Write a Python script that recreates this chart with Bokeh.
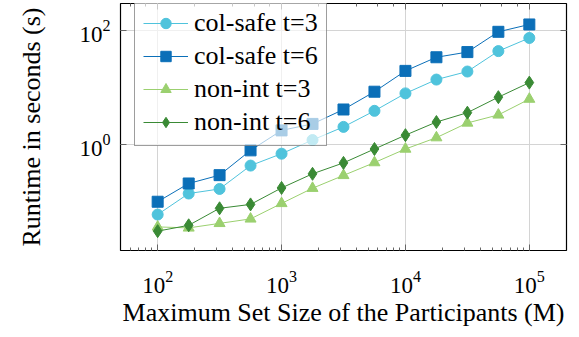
from bokeh.plotting import figure
from bokeh.models import (Range1d, LogAxis, FixedTicker, LogTicker,
                          Legend, LegendItem)
from bokeh.embed import file_html
from bokeh.resources import INLINE

# data
set_size = [100, 178, 316, 562, 1000, 1778, 3162, 5623, 10000, 17783, 31623, 56234, 100000]
colsafe_t3 = [0.059, 0.138, 0.166, 0.427, 0.69, 1.2, 2.04, 3.9, 7.9, 13.8, 19.1, 43.6, 74.1]
colsafe_t6 = [0.099, 0.207, 0.29, 0.79, 1.77, 2.3, 4.12, 8.45, 19.6, 34.0, 41.9, 95.1, 128.0]
nonint_t3 = [0.0358, 0.0344, 0.0413, 0.0495, 0.0925, 0.171, 0.287, 0.482, 0.834, 1.32, 2.39, 3.31, 6.27]
nonint_t6 = [0.0302, 0.0382, 0.076, 0.0889, 0.173, 0.306, 0.476, 0.834, 1.46, 2.48, 3.62, 6.78, 12.2]
labels = ["col-safe t=3", "col-safe t=6", "non-int t=3", "non-int t=6"]
y_ticks = [0.01, 1, 100]

FONT = "'Liberation Serif', 'Times New Roman', serif"

p = figure(width=571, height=329, x_axis_type="log", y_axis_type="log",
           x_range=Range1d(10 ** 1.7, 10 ** 5.3), y_range=Range1d(10 ** -1.86, 10 ** 2.475),
           output_backend="svg", toolbar_location=None,
           min_border_left=120, min_border_right=5, min_border_top=3, min_border_bottom=72)
p.outline_line_color = "black"
p.outline_line_width = 1.2
p.background_fill_color = "white"
p.border_fill_color = "white"

yt = FixedTicker(ticks=y_ticks, minor_ticks=[])
p.yaxis.ticker = yt
p.ygrid.ticker = yt
p.xgrid.grid_line_color = "#d4d4d4"
p.ygrid.grid_line_color = "#d4d4d4"

for ax in (p.xaxis[0], p.yaxis[0]):
    ax.major_tick_in = 6
    ax.major_tick_out = 0
    ax.minor_tick_in = 3
    ax.minor_tick_out = 0
    ax.major_tick_line_color = "#666666"
    ax.minor_tick_line_color = "#666666"
    ax.axis_line_color = None
    ax.major_label_text_font = FONT
    ax.major_label_text_font_size = "23px"
    ax.major_label_text_color = "black"
    ax.axis_label_text_font = FONT
    ax.axis_label_text_font_size = "26px"
    ax.axis_label_text_font_style = "normal"
    ax.axis_label_text_color = "black"

p.xaxis.axis_label = "Maximum Set Size of the Participants (M)"
p.yaxis.axis_label = "Runtime in seconds (s)"
p.xaxis.major_label_standoff = 20
p.xaxis.axis_label_standoff = 2
p.yaxis.major_label_standoff = 10
p.yaxis.axis_label_standoff = 30

top = LogAxis(ticker=LogTicker(), major_tick_in=6, major_tick_out=0, minor_tick_in=3,
              minor_tick_out=0, major_tick_line_color="#666666", minor_tick_line_color="#666666",
              axis_line_color=None, major_label_text_font_size="1px",
              major_label_text_color=None, major_label_standoff=0)
right = LogAxis(ticker=FixedTicker(ticks=y_ticks, minor_ticks=[]), major_tick_in=6, major_tick_out=0,
                minor_tick_in=3, minor_tick_out=0, major_tick_line_color="#666666",
                axis_line_color=None, major_label_text_font_size="1px",
                major_label_text_color=None, major_label_standoff=0)
p.add_layout(top, "above")
p.add_layout(right, "right")

series = [colsafe_t3, colsafe_t6, nonint_t3, nonint_t6]
colors = ["#4fc3dc", "#0b6fb8", "#9bd06f", "#3a8a35"]
markers = ["circle", "square", "triangle", "diamond"]
sizes = [11, 11, 11, 13]

items = []
for lab, ys, c, m, s in zip(labels, series, colors, markers, sizes):
    lr = p.line(set_size, ys, line_color=c, line_width=1)
    sr = p.scatter(set_size, ys, marker=m, size=s, fill_color=c, line_color=c, line_width=1)
    items.append(LegendItem(label=lab, renderers=[lr, sr]))

legend = Legend(items=items, location=(14, 104))
legend.label_text_font = FONT
legend.label_text_font_size = "26px"
legend.label_text_color = "black"
legend.glyph_width = 45
legend.glyph_height = 26
legend.label_standoff = 6
legend.spacing = 3
legend.padding = 8
legend.margin = 0
legend.border_line_color = "#3c3c3c"
legend.border_line_width = 1.5
legend.background_fill_color = "white"
legend.background_fill_alpha = 0.65
p.add_layout(legend)

open("out.html", "w").write(file_html(p, INLINE))
